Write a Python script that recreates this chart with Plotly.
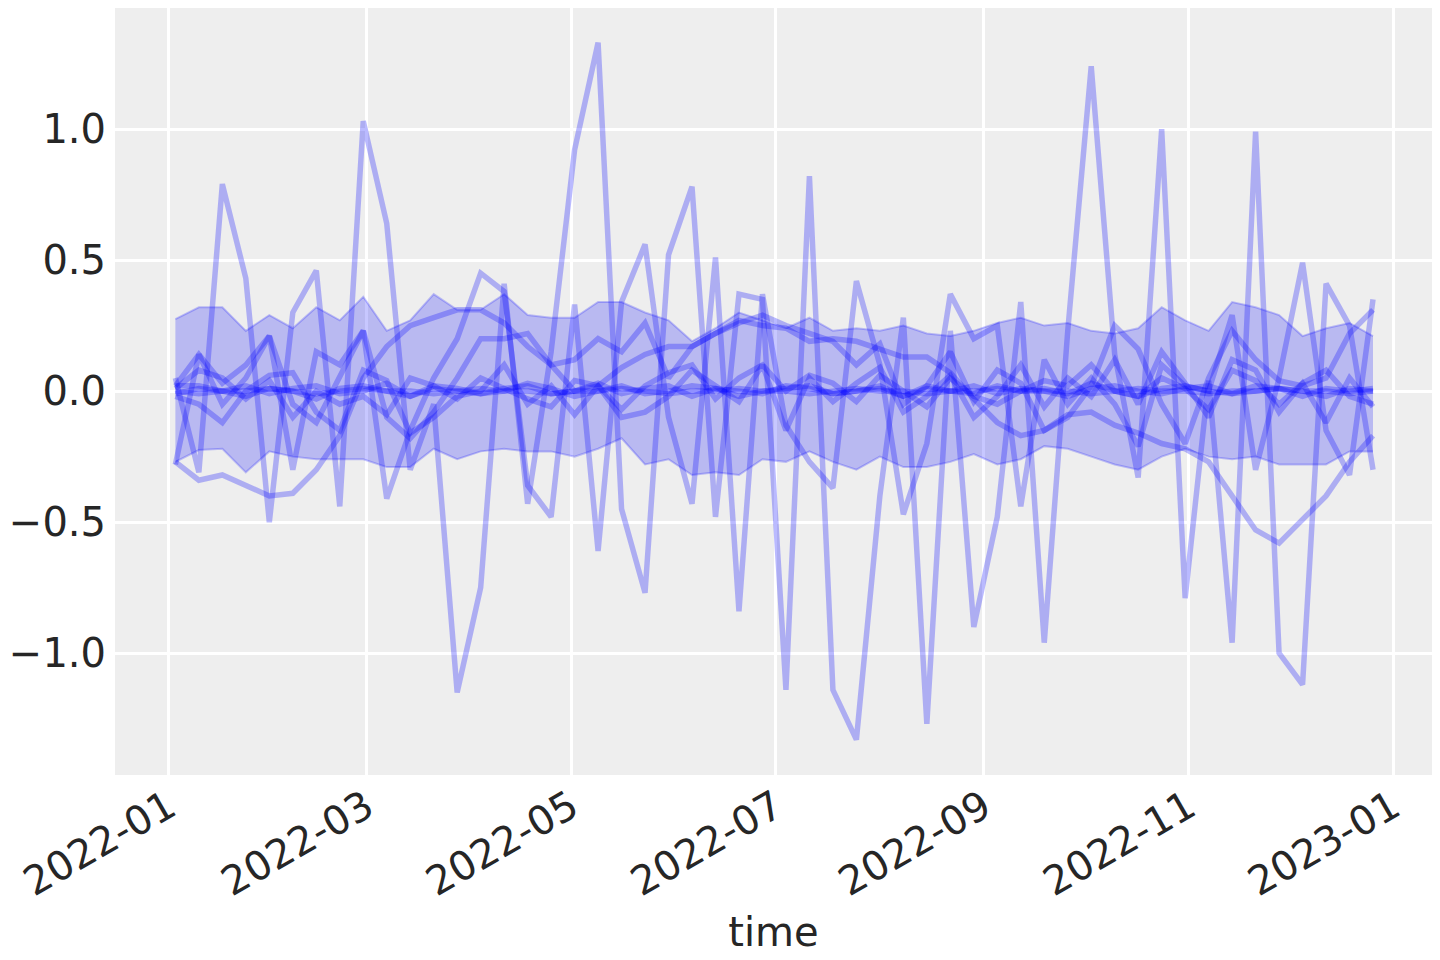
import pandas as pd
import plotly.graph_objects as go

# weekly time index (Mondays), 52 weeks
time = pd.date_range("2022-01-03", periods=52, freq="7D")

# HDI band
hdi_upper = [0.275, 0.32, 0.32, 0.23, 0.29, 0.24, 0.32, 0.27, 0.36, 0.23, 0.27, 0.37, 0.31,
             0.31, 0.37, 0.29, 0.28, 0.28, 0.34, 0.34, 0.30, 0.27, 0.19, 0.24, 0.30, 0.27,
             0.24, 0.28, 0.23, 0.24, 0.23, 0.25, 0.22, 0.21, 0.23, 0.26, 0.28, 0.25, 0.26,
             0.23, 0.22, 0.24, 0.32, 0.27, 0.23, 0.34, 0.32, 0.29, 0.21, 0.24, 0.26, 0.21]
hdi_lower = [-0.27, -0.225, -0.22, -0.31, -0.23, -0.25, -0.26, -0.26, -0.26, -0.29, -0.29, -0.22, -0.26,
             -0.23, -0.22, -0.23, -0.23, -0.25, -0.22, -0.18, -0.28, -0.26, -0.32, -0.31, -0.32, -0.26,
             -0.27, -0.23, -0.27, -0.30, -0.25, -0.29, -0.29, -0.27, -0.24, -0.28, -0.26, -0.21, -0.22,
             -0.25, -0.28, -0.30, -0.25, -0.22, -0.25, -0.26, -0.25, -0.28, -0.28, -0.28, -0.23, -0.23]

# sample draws
wild_1 = [0.05, -0.31, 0.79, 0.43, -0.50, 0.30, 0.46, -0.44, 1.03, 0.64, -0.30, -0.05, -1.15,
          -0.75, 0.41, -0.43, 0.15, 0.92, 1.33, -0.45, -0.77, 0.52, 0.78, -0.48, 0.37, 0.35,
          -1.14, 0.82, -1.14, -1.33, -0.40, 0.28, -1.27, 0.23, -0.90, -0.48, 0.34, -0.96, 0.23,
          1.24, 0.14, -0.33, 1.00, -0.79, 0.04, -0.96, 0.99, -1.00, -1.12, 0.41, 0.25, -0.30]
wild_2 = [-0.28, 0.14, -0.05, 0.05, 0.21, -0.30, 0.15, 0.10, 0.23, -0.41, -0.15, 0.05, 0.20,
          0.45, 0.38, -0.36, -0.48, 0.33, -0.61, 0.34, 0.56, -0.10, -0.43, 0.51, -0.84, 0.37,
          -0.13, -0.27, -0.37, 0.42, 0.10, -0.47, -0.20, 0.37, 0.20, 0.25, -0.44, 0.12, -0.05,
          0.05, -0.05, -0.21, 0.10, 0.02, 0.00, 0.29, -0.30, 0.05, 0.49, -0.15, -0.32, 0.35]
walk = [-0.27, -0.34, -0.32, -0.36, -0.40, -0.39, -0.30, -0.17, 0.05, 0.17, 0.25, 0.28, 0.31,
        0.31, 0.26, 0.17, 0.10, 0.00, 0.02, 0.09, 0.14, 0.17, 0.17, 0.22, 0.27, 0.25,
        0.24, 0.19, 0.20, 0.19, 0.16, 0.13, 0.13, 0.07, -0.03, -0.12, -0.17, -0.15, -0.09,
        -0.08, -0.13, -0.16, -0.20, -0.22, -0.27, -0.40, -0.53, -0.58, -0.49, -0.40, -0.27, -0.17]
mid_1 = [0.02, 0.14, 0.03, 0.10, 0.21, -0.05, -0.12, 0.05, 0.23, -0.10, -0.18, -0.08, 0.05,
         0.20, 0.20, 0.22, 0.10, 0.12, 0.20, 0.15, 0.26, 0.05, 0.17, 0.22, 0.26, 0.29,
         0.25, 0.22, 0.19, 0.10, 0.18, -0.05, 0.02, 0.15, -0.04, 0.08, 0.03, -0.15, -0.10,
         0.02, 0.25, 0.16, -0.05, -0.20, 0.05, 0.23, 0.12, 0.04, 0.02, 0.05, 0.22, 0.31]
mid_2 = [-0.02, -0.05, -0.12, 0.00, 0.06, 0.07, -0.08, -0.15, 0.08, 0.04, -0.16, -0.10, -0.02,
         0.00, 0.10, -0.05, 0.02, -0.09, 0.02, -0.10, -0.08, -0.02, 0.08, 0.02, -0.04, 0.10,
         -0.15, 0.05, -0.04, 0.03, 0.09, -0.08, -0.02, 0.06, -0.10, -0.02, 0.10, -0.06, 0.05,
         -0.02, 0.12, -0.05, 0.15, 0.03, -0.10, 0.12, 0.08, -0.08, 0.03, -0.12, 0.05, -0.06]
mid_3 = [0.01, 0.08, 0.05, -0.03, 0.04, -0.10, 0.00, -0.05, -0.02, -0.09, 0.05, 0.02, -0.03,
         0.05, 0.01, -0.03, -0.06, 0.04, 0.02, -0.07, 0.02, 0.07, 0.10, -0.03, 0.05, 0.10,
         0.00, 0.06, 0.03, -0.04, 0.06, 0.00, -0.06, 0.05, -0.02, -0.05, 0.00, 0.04, 0.02,
         0.10, 0.00, -0.02, 0.05, 0.01, -0.07, 0.08, 0.04, -0.05, 0.03, 0.08, -0.02, -0.05]
small_1 = [-0.01, 0.01, 0.00, 0.02, -0.01, 0.01, 0.02, -0.01, 0.00, 0.03, -0.02, 0.01, 0.00,
           -0.01, 0.01, 0.02, -0.01, 0.00, 0.03, -0.01, 0.01, 0.02, -0.02, 0.01, 0.00, -0.01,
           0.02, 0.01, -0.01, 0.00, 0.02, -0.02, 0.01, 0.00, 0.02, -0.01, 0.01, 0.00, -0.02,
           0.01, 0.02, 0.00, -0.01, 0.01, 0.02, -0.01, 0.00, 0.01, -0.02, 0.01, 0.00, 0.01]
small_2 = [0.00, -0.01, 0.00, 0.00, 0.01, 0.00, -0.01, 0.00, 0.01, 0.00, 0.00, -0.01, 0.00,
           0.01, 0.00, 0.00, -0.01, 0.00, 0.00, 0.01, 0.00, -0.01, 0.00, 0.00, 0.01, 0.00,
           0.00, -0.01, 0.00, 0.01, 0.00, 0.00, -0.01, 0.00, 0.00, 0.01, 0.00, 0.00, 0.00,
           -0.01, 0.00, 0.01, 0.00, 0.00, -0.01, 0.00, 0.00, 0.01, 0.00, 0.00, -0.01, 0.00]
small_3 = [0.02, 0.02, 0.00, -0.02, 0.01, 0.00, -0.03, 0.01, 0.02, 0.00, -0.02, 0.02, 0.01,
           -0.01, 0.00, 0.03, 0.01, -0.02, 0.00, 0.02, -0.01, 0.00, 0.02, 0.01, -0.02, 0.00,
           0.01, 0.02, -0.01, 0.00, 0.01, -0.02, 0.02, 0.00, -0.01, 0.02, 0.00, 0.01, -0.01,
           0.03, 0.00, -0.02, 0.01, 0.02, 0.00, -0.01, 0.02, 0.01, 0.00, -0.02, 0.01, 0.00]

draws = [wild_1, wild_2, walk, mid_1, mid_2, mid_3, small_1, small_2, small_3]

xtick_vals = ["2022-01-01", "2022-03-01", "2022-05-01", "2022-07-01",
              "2022-09-01", "2022-11-01", "2023-01-01"]
xtick_text = ["2022-01", "2022-03", "2022-05", "2022-07", "2022-09", "2022-11", "2023-01"]
ytick_vals = [-1.0, -0.5, 0.0, 0.5, 1.0]
ytick_text = ["\u22121.0", "\u22120.5", "0.0", "0.5", "1.0"]

fig = go.Figure()

# hdi band
fig.add_trace(go.Scatter(x=time, y=hdi_lower, mode="lines",
                         line=dict(color="rgba(0,0,255,0.22)", width=2),
                         showlegend=False, hoverinfo="skip"))
fig.add_trace(go.Scatter(x=time, y=hdi_upper, mode="lines", fill="tonexty",
                         fillcolor="rgba(0,0,255,0.22)",
                         line=dict(color="rgba(0,0,255,0.22)", width=2),
                         showlegend=False, hoverinfo="skip"))

for d in draws:
    fig.add_trace(go.Scatter(x=time, y=d, mode="lines",
                             line=dict(color="rgba(0,0,255,0.27)", width=5.5),
                             showlegend=False))

# page body adds an 8px offset, margins are set to compensate
fig.update_layout(
    width=1440, height=960,
    margin=dict(l=107, r=16, t=0, b=193),
    paper_bgcolor="white", plot_bgcolor="#eeeeee",
    font=dict(family="DejaVu Sans", size=40, color="#262626"),
    xaxis=dict(range=["2021-12-16", "2023-01-12 14:00"],
               tickvals=xtick_vals, ticktext=xtick_text, tickangle=-30,
               showgrid=True, gridcolor="white", gridwidth=2.5,
               zeroline=False, showline=False, ticks="", automargin=False,
               title=dict(text="time", font=dict(size=40), standoff=14)),
    yaxis=dict(range=[-1.465, 1.462], tickvals=ytick_vals, ticktext=ytick_text,
               showgrid=True, gridcolor="white", gridwidth=2.5, automargin=False,
               zeroline=False, showline=False, ticks="", ticklabelstandoff=8),
)

fig.write_html("out.html")
